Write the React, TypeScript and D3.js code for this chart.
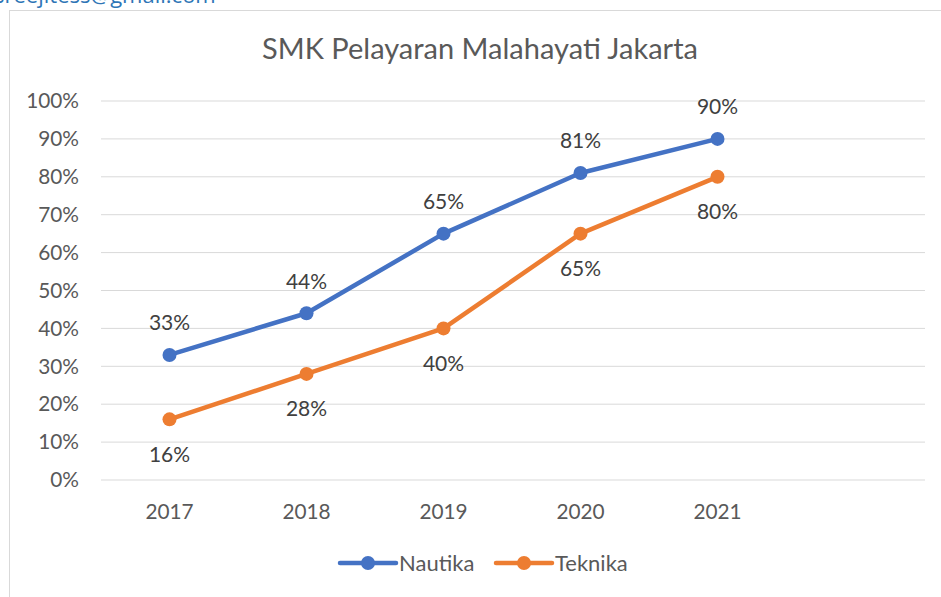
import React from "react";
import * as d3 from "d3";

const categories = ["2017", "2018", "2019", "2020", "2021", ""];
const years = ["2017", "2018", "2019", "2020", "2021"];
const nautika = [0.33, 0.44, 0.65, 0.81, 0.9];
const teknika = [0.16, 0.28, 0.4, 0.65, 0.8];
const yTicks = [0, 0.1, 0.2, 0.3, 0.4, 0.5, 0.6, 0.7, 0.8, 0.9, 1.0];
const seriesNames = ["Nautika", "Teknika"];
const colors = ["#4472C4", "#ED7D31"];

const W = 941;
const H = 597;
const FONT = "Lato, 'Open Sans', sans-serif";

export default function App() {
  const x = d3.scaleBand().domain(categories).range([101, 923]);
  const y = d3.scaleLinear().domain([0, 1]).range([480, 101]);
  const line = d3
    .line<number>()
    .x((_, i) => (x(years[i]) as number) + x.bandwidth() / 2)
    .y((d) => y(d));
  const fmt = d3.format(".0%");
  const series = [nautika, teknika];

  return (
    <svg
      width={W}
      height={H}
      style={{ position: "absolute", left: 0, top: 0, background: "#fff" }}
      fontFamily={FONT}
    >
      <rect x={0} y={0} width={W} height={H} fill="#fff" />
      <text x={-6} y={3} fontSize={22} fill="#2E75B6" fontFamily="'Open Sans', sans-serif">
        sreejitess@gmail.com
      </text>
      <rect x={9.5} y={10.5} width={W + 20} height={H + 20} fill="#fff" stroke="#D9D9D9" />
      <text x={480} y={59} textAnchor="middle" fontSize={29} fill="#595959">
        SMK Pelayaran Malahayati Jakarta
      </text>
      {yTicks.map((t) => (
        <g key={t}>
          <line x1={101} x2={925} y1={y(t)} y2={y(t)} stroke="#D9D9D9" strokeWidth={1} />
          <text x={79} y={y(t)} dy="0.35em" textAnchor="end" fontSize={20.8} fill="#595959">
            {fmt(t)}
          </text>
        </g>
      ))}
      {years.map((c) => (
        <text
          key={c}
          x={(x(c) as number) + x.bandwidth() / 2}
          y={512}
          dy="0.35em"
          textAnchor="middle"
          fontSize={20.8}
          fill="#595959"
        >
          {c}
        </text>
      ))}
      {series.map((s, si) => (
        <g key={si}>
          <path d={line(s) || ""} fill="none" stroke={colors[si]} strokeWidth={4.5} strokeLinejoin="round" strokeLinecap="round" />
          {s.map((v, i) => {
            const cx = (x(years[i]) as number) + x.bandwidth() / 2;
            return (
              <g key={i}>
                <circle cx={cx} cy={y(v)} r={7} fill={colors[si]} />
                <text
                  x={cx}
                  y={y(v) + (si === 0 ? -32 : 35)}
                  dy="0.35em"
                  textAnchor="middle"
                  fontSize={21}
                  fill="#404040"
                >
                  {fmt(v)}
                </text>
              </g>
            );
          })}
        </g>
      ))}
      {seriesNames.map((n, i) => {
        const lx = i === 0 ? 340 : 496;
        return (
          <g key={n}>
            <line x1={lx} x2={lx + 56} y1={563} y2={563} stroke={colors[i]} strokeWidth={4.5} strokeLinecap="round" />
            <circle cx={lx + 28} cy={563} r={7} fill={colors[i]} />
            <text x={lx + 59} y={563} dy="0.35em" fontSize={22} fill="#595959">
              {n}
            </text>
          </g>
        );
      })}
    </svg>
  );
}
